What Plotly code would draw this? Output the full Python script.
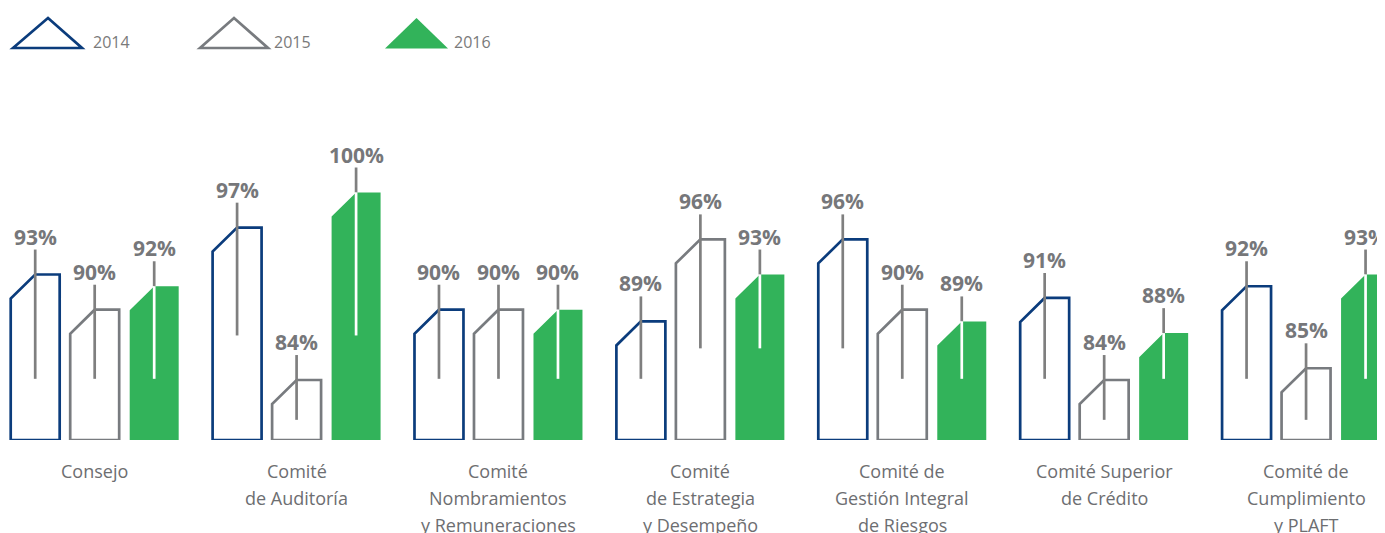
import plotly.graph_objects as go

# ---------------- data ----------------
categories = [
    ["Consejo"],
    ["Comité", "de Auditoría"],
    ["Comité", "Nombramientos", "y Remuneraciones"],
    ["Comité", "de Estrategia", "y Desempeño"],
    ["Comité de", "Gestión Integral", "de Riesgos"],
    ["Comité Superior", "de Crédito"],
    ["Comité de", "Cumplimiento", "y PLAFT"],
]
years = ["2014", "2015", "2016"]
values_2014 = [93, 97, 90, 89, 96, 91, 92]
values_2015 = [90, 84, 90, 96, 90, 84, 85]
values_2016 = [92, 100, 90, 93, 89, 88, 93]
# lower end of each value's leader line (in % units)
leader_base_2014 = [84.1, 87.8, 84.1, 84.1, 86.7, 84.1, 84.1]
leader_base_2015 = [84.1, 80.6, 84.1, 86.7, 84.1, 80.6, 80.6]
leader_base_2016 = [84.1, 87.8, 84.1, 86.7, 84.1, 84.1, 84.1]

# ---------------- layout / style constants ----------------
OFF = 8                      # default page body margin
W, H = 1385 - OFF, 533 - OFF
PLOT_H = 440 - OFF
MB = H - PLOT_H
Y_MIN = 78.88
PX_PER_UNIT = 11.72
Y_MAX = Y_MIN + PLOT_H / PX_PER_UNIT
X_RANGE = [-0.4294, 6.391]
BAR_STEP = 0.2947
BAR_HALF = 0.1213
CHAMFER = 2.05
LEADER_OVER = 2.13

NAVY = "#0b3c7c"
GREY_BAR = "#787b7f"
GREEN = "#32b35a"
LEADER = "#7f7f7f"
LABEL = "#76777a"
CAT = "#6d6e71"

series = [
    dict(name=years[0], vals=values_2014, base=leader_base_2014, style="outline", color=NAVY),
    dict(name=years[1], vals=values_2015, base=leader_base_2015, style="outline", color=GREY_BAR),
    dict(name=years[2], vals=values_2016, base=leader_base_2016, style="fill", color=GREEN),
]

fig = go.Figure()
annotations = []
lead_gray_x, lead_gray_y = [], []
lead_white_x, lead_white_y = [], []

for k, s in enumerate(series):
    off = (k - 1) * BAR_STEP
    px_, py_ = [], []
    for i, v in enumerate(s["vals"]):
        xc = i + off
        x0, x1 = xc - BAR_HALF, xc + BAR_HALF
        px_ += [x0, x0, xc, x1, x1, x0, None]
        py_ += [Y_MIN, v - CHAMFER, v, v, Y_MIN, Y_MIN, None]
        top = v + LEADER_OVER
        if s["style"] == "fill":
            lead_white_x += [xc, xc, None]
            lead_white_y += [s["base"][i], v, None]
            lead_gray_x += [xc, xc, None]
            lead_gray_y += [v, top, None]
        else:
            lead_gray_x += [xc, xc, None]
            lead_gray_y += [s["base"][i], top, None]
        annotations.append(dict(
            x=xc, y=top, xref="x", yref="y", text=f"{v}%", showarrow=False,
            yanchor="bottom", xanchor="center", yshift=-3,
            font=dict(family="Open Sans", size=21, color=LABEL, weight="bold"),
        ))
    if s["style"] == "fill":
        fig.add_trace(go.Scatter(x=px_, y=py_, mode="lines", fill="toself",
                                 fillcolor=s["color"], line=dict(width=0, color=s["color"]),
                                 hoverinfo="skip", showlegend=False, name=s["name"]))
    else:
        fig.add_trace(go.Scatter(x=px_, y=py_, mode="lines", fill="toself",
                                 fillcolor="white", line=dict(width=2.7, color=s["color"]),
                                 hoverinfo="skip", showlegend=False, name=s["name"]))

fig.add_trace(go.Scatter(x=lead_gray_x, y=lead_gray_y, mode="lines",
                         line=dict(width=2.7, color=LEADER), hoverinfo="skip", showlegend=False))
fig.add_trace(go.Scatter(x=lead_white_x, y=lead_white_y, mode="lines",
                         line=dict(width=2.7, color="white"), hoverinfo="skip", showlegend=False))

# category labels (one annotation per line for the wide line spacing)
for i, lines in enumerate(categories):
    for j, line in enumerate(lines):
        annotations.append(dict(
            x=i, y=0, xref="x", yref="paper", text=line, showarrow=False,
            xanchor="center", yanchor="middle", yshift=-(31 + 27 * j),
            font=dict(family="Open Sans", size=18, color=CAT),
        ))

# custom legend (triangles); coordinates given in page pixels
def px2paper(x, y):
    return (x - OFF) / W, (440 - y) / PLOT_H

legend_items = [
    dict(tri=[(13, 48), (48, 18), (82, 48)], color=NAVY, filled=False, tx=91),
    dict(tri=[(200, 48), (234, 18), (268, 48)], color=GREY_BAR, filled=False, tx=272),
    dict(tri=[(385, 48.5), (416.5, 18), (448, 48.5)], color=GREEN, filled=True, tx=452),
]
shapes = []
for item, yr in zip(legend_items, years):
    pts = [px2paper(*p) for p in item["tri"]]
    path = "M {},{} L {},{} L {},{} Z".format(*[c for p in pts for c in p])
    shapes.append(dict(
        type="path", xref="paper", yref="paper", path=path,
        line=dict(color=item["color"], width=0 if item["filled"] else 2.7),
        fillcolor=item["color"] if item["filled"] else "white",
    ))
    tx, ty = px2paper(item["tx"], 42)
    annotations.append(dict(
        x=tx, y=ty, xref="paper", yref="paper", text=yr, showarrow=False,
        xanchor="left", yanchor="middle",
        font=dict(family="Open Sans", size=16, color="#7a7a7a"),
    ))

fig.update_layout(
    width=W, height=H,
    margin=dict(l=0, r=0, t=0, b=MB),
    paper_bgcolor="white", plot_bgcolor="white",
    showlegend=False,
    xaxis=dict(range=X_RANGE, visible=False, fixedrange=True),
    yaxis=dict(range=[Y_MIN, Y_MAX], visible=False, fixedrange=True),
    annotations=annotations,
    shapes=shapes,
)

fig.write_html("out.html")
